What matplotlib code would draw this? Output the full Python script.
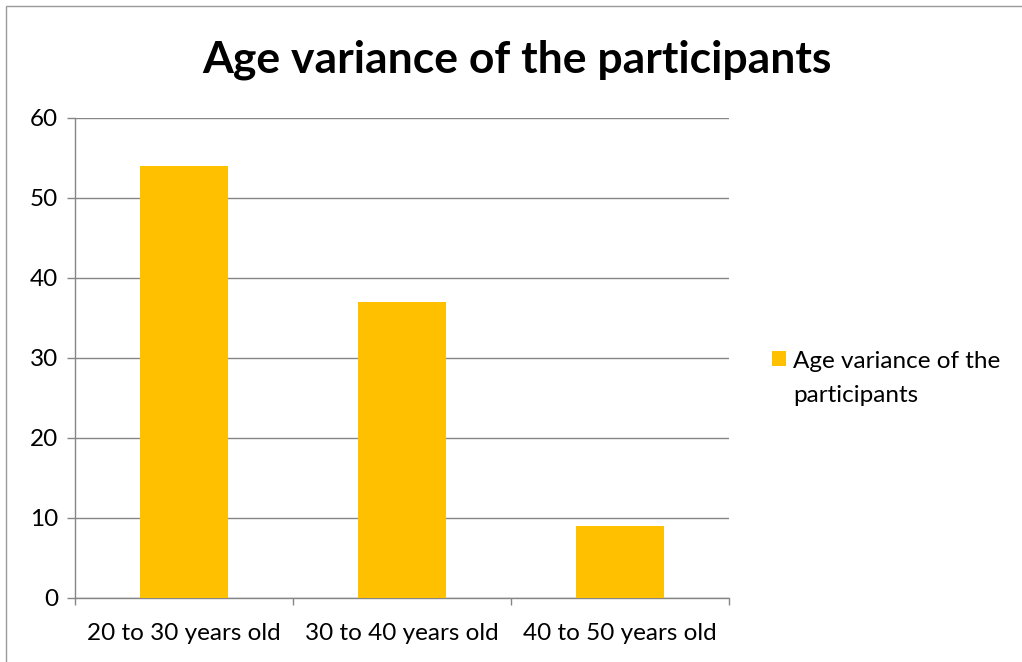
import matplotlib.pyplot as plt
import matplotlib.patches as mpatches
import numpy as np

plt.rcParams['font.family'] = ['Lato', 'DejaVu Sans']

categories = ['20 to 30 years old', '30 to 40 years old', '40 to 50 years old']
values = [54, 37, 9]
yticks = [0, 10, 20, 30, 40, 50, 60]
series_name = 'Age variance of the\nparticipants'
title = 'Age variance of the participants'

fig = plt.figure(figsize=(10.22, 6.62), dpi=100)
ax = fig.add_axes([0.0734, 0.0967, 0.6399, 0.7251])

x = np.arange(len(categories))
ax.bar(x, values, width=0.4, color='#FFC000', label=series_name, zorder=3)

ax.set_xlim(-0.5, 2.5)
ax.set_ylim(0, 60)
ax.set_yticks(yticks)
ax.set_xticks(x)
ax.set_xticklabels(categories)
ax.set_xticks([-0.5, 0.5, 1.5, 2.5], minor=True)
ax.tick_params(axis='x', which='major', length=0, pad=18, labelsize=17.5)
ax.tick_params(axis='x', which='minor', length=5, color='#868686', width=1)
ax.tick_params(axis='y', length=6, color='#868686', width=1, labelsize=17.5, pad=6)
ax.grid(axis='y', color='#868686', linewidth=1, zorder=0)
for s in ['top', 'right']:
    ax.spines[s].set_visible(False)
for s in ['left', 'bottom']:
    ax.spines[s].set_color('#868686')
    ax.spines[s].set_linewidth(1)

fig.text(0.506, 0.91, title, ha='center', va='center', fontsize=32, fontweight='bold')

leg = ax.legend(loc='upper left', bbox_to_anchor=(0.755, 0.470), bbox_transform=fig.transFigure,
                frameon=False, fontsize=17.5, handlelength=0.6, handleheight=0.6,
                handletextpad=0.3, borderaxespad=0, borderpad=0)
for t in leg.get_texts():
    t.set_linespacing(1.75)
# put the square next to the first line, like Excel does
for col in leg._legend_handle_box.get_children():
    for item in col.get_children():
        item.align = 'top'

fig.patches.append(mpatches.Rectangle((6 / 1022, -0.1), 1.2, 1 - 6 / 662 + 0.1,
                                      transform=fig.transFigure, fill=False,
                                      edgecolor='#9a9a9a', linewidth=1))

plt.savefig('out.png', dpi=100)
